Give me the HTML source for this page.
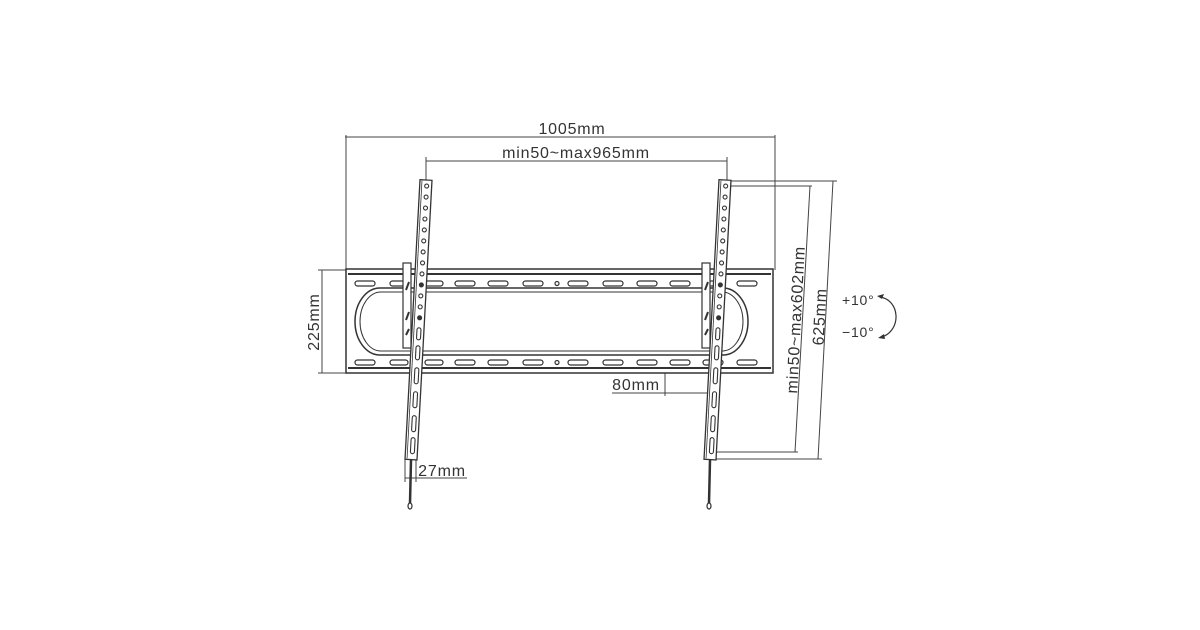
<!DOCTYPE html>
<html><head><meta charset="utf-8"><style>
html,body{margin:0;padding:0;background:#fff;}
svg{display:block;}
text{font-family:"Liberation Sans",sans-serif;fill:#333;letter-spacing:0.8px;}
</style></head><body>
<svg width="1200" height="630" viewBox="0 0 1200 630" xmlns="http://www.w3.org/2000/svg">
<g stroke="#444" stroke-width="1" fill="none">
<line x1="345" y1="137" x2="775" y2="137"/>
<line x1="346" y1="135" x2="346" y2="270"/>
<line x1="775" y1="135" x2="775" y2="270"/>
<line x1="426" y1="161" x2="727" y2="161"/>
<line x1="426" y1="157" x2="426" y2="182"/>
<line x1="727" y1="157" x2="727" y2="182"/>
<line x1="322" y1="270" x2="322" y2="373"/>
<line x1="318" y1="270" x2="346" y2="270"/>
<line x1="318" y1="373" x2="346" y2="373"/>
<line x1="731" y1="181" x2="837" y2="181"/>
<line x1="731" y1="186" x2="812" y2="186"/>
<line x1="810" y1="186" x2="795" y2="452"/>
<line x1="833" y1="181" x2="818" y2="459"/>
<line x1="716" y1="452" x2="798" y2="452"/>
<line x1="716" y1="459" x2="822" y2="459"/>
<line x1="612" y1="393" x2="712" y2="393"/>
<line x1="665" y1="373" x2="665" y2="396"/>
<line x1="405" y1="478" x2="467" y2="478"/>
<line x1="405" y1="460" x2="405" y2="482"/>
<line x1="416" y1="460" x2="416" y2="482"/>
</g>
<g stroke="#333" fill="none">
<rect x="346" y="269" width="427" height="104" stroke-width="1.5"/>
<line x1="348" y1="274" x2="771" y2="274" stroke-width="2"/>
<line x1="348" y1="368" x2="771" y2="368" stroke-width="2"/>
<path d="M380,288 H723 A25,33.5 0 0 1 723,355 H380 A25,33.5 0 0 1 380,288 Z" stroke-width="1.5"/>
<path d="M381,292 H722 A21,29.5 0 0 1 722,351 H381 A21,29.5 0 0 1 381,292 Z" stroke-width="1"/>
<g stroke-width="1.2">
<rect x="355" y="281" width="20" height="5" rx="2.5"/><rect x="390" y="281" width="18" height="5" rx="2.5"/><rect x="425" y="281" width="18" height="5" rx="2.5"/><rect x="455" y="281" width="20" height="5" rx="2.5"/><rect x="488" y="281" width="20" height="5" rx="2.5"/><rect x="523" y="281" width="20" height="5" rx="2.5"/><circle cx="557" cy="283.5" r="2"/><rect x="568" y="281" width="20" height="5" rx="2.5"/><rect x="603" y="281" width="20" height="5" rx="2.5"/><rect x="637" y="281" width="20" height="5" rx="2.5"/><rect x="670" y="281" width="20" height="5" rx="2.5"/><rect x="703" y="281" width="20" height="5" rx="2.5"/><rect x="737" y="281" width="20" height="5" rx="2.5"/>
<rect x="355" y="360" width="20" height="5" rx="2.5"/><rect x="390" y="360" width="18" height="5" rx="2.5"/><rect x="425" y="360" width="18" height="5" rx="2.5"/><rect x="455" y="360" width="20" height="5" rx="2.5"/><rect x="488" y="360" width="20" height="5" rx="2.5"/><rect x="523" y="360" width="20" height="5" rx="2.5"/><circle cx="557" cy="362.5" r="2"/><rect x="568" y="360" width="20" height="5" rx="2.5"/><rect x="603" y="360" width="20" height="5" rx="2.5"/><rect x="637" y="360" width="20" height="5" rx="2.5"/><rect x="670" y="360" width="20" height="5" rx="2.5"/><rect x="703" y="360" width="20" height="5" rx="2.5"/><rect x="737" y="360" width="20" height="5" rx="2.5"/>
</g>
</g>
<g stroke="#333" fill="#fff">
<rect x="403" y="263" width="8" height="85" stroke-width="1.2"/>
<path d="M406,290 l3,-8 M406,320 l3,-8 M406,335 l3,-6" stroke-width="2"/>
<g transform="rotate(3.07 426 180)">
<rect x="420" y="180" width="12" height="280" stroke-width="1.3"/>
<line x1="422" y1="181" x2="422" y2="459" stroke-width="0.8"/>
<g fill="none" stroke-width="1.1">
<circle cx="427" cy="186" r="2"/><circle cx="427" cy="197" r="2"/><circle cx="427" cy="208" r="2"/><circle cx="427" cy="219" r="2"/><circle cx="427" cy="230" r="2"/><circle cx="427" cy="241" r="2"/><circle cx="427" cy="252" r="2"/><circle cx="427" cy="263" r="2"/><circle cx="427" cy="274" r="2"/><circle cx="427" cy="285" r="2" fill="#333"/><circle cx="427" cy="296" r="2"/><circle cx="427" cy="307" r="2"/><circle cx="427" cy="318" r="2" fill="#333"/>
<rect x="425" y="328" width="4" height="12" rx="2"/><rect x="425" y="346" width="4" height="14" rx="2"/><rect x="425" y="368" width="4" height="16" rx="2"/><rect x="425" y="392" width="4" height="16" rx="2"/><rect x="425" y="416" width="4" height="16" rx="2"/><rect x="425" y="438" width="4" height="16" rx="2"/>
</g></g>
<line x1="411" y1="460" x2="410" y2="503" stroke-width="2.5"/>
<ellipse cx="410" cy="506" rx="2" ry="3" stroke-width="1.2"/>
</g>
<g stroke="#333" fill="#fff">
<rect x="702" y="263" width="8" height="85" stroke-width="1.2"/>
<path d="M705,290 l3,-8 M705,320 l3,-8 M705,335 l3,-6" stroke-width="2"/>
<g transform="rotate(3.07 725 180)">
<rect x="719" y="180" width="12" height="280" stroke-width="1.3"/>
<line x1="721" y1="181" x2="721" y2="459" stroke-width="0.8"/>
<g fill="none" stroke-width="1.1">
<circle cx="726" cy="186" r="2"/><circle cx="726" cy="197" r="2"/><circle cx="726" cy="208" r="2"/><circle cx="726" cy="219" r="2"/><circle cx="726" cy="230" r="2"/><circle cx="726" cy="241" r="2"/><circle cx="726" cy="252" r="2"/><circle cx="726" cy="263" r="2"/><circle cx="726" cy="274" r="2"/><circle cx="726" cy="285" r="2" fill="#333"/><circle cx="726" cy="296" r="2"/><circle cx="726" cy="307" r="2"/><circle cx="726" cy="318" r="2" fill="#333"/>
<rect x="724" y="328" width="4" height="12" rx="2"/><rect x="724" y="346" width="4" height="14" rx="2"/><rect x="724" y="368" width="4" height="16" rx="2"/><rect x="724" y="392" width="4" height="16" rx="2"/><rect x="724" y="416" width="4" height="16" rx="2"/><rect x="724" y="438" width="4" height="16" rx="2"/>
</g></g>
<line x1="710" y1="460" x2="709" y2="503" stroke-width="2.5"/>
<ellipse cx="709" cy="506" rx="2" ry="3" stroke-width="1.2"/>
</g>
<path d="M880,297 C900,300 902,330 882,337" stroke="#333" stroke-width="1.2" fill="none"/>
<path d="M877,296 l7,-2 l-2,5 z M878,338 l6,-4 l1,5 z" fill="#333"/>
<text x="572" y="134" font-size="16" text-anchor="middle">1005mm</text>
<text x="576" y="158" font-size="16" text-anchor="middle">min50~max965mm</text>
<text x="319" y="322" font-size="16" text-anchor="middle" transform="rotate(-90 319 322)">225mm</text>
<text x="636" y="390" font-size="16" text-anchor="middle">80mm</text>
<text x="442" y="476" font-size="16" text-anchor="middle">27mm</text>
<text x="801" y="320" font-size="16" text-anchor="middle" transform="rotate(-87 801 320)">min50~max602mm</text>
<text x="825" y="317" font-size="16" text-anchor="middle" transform="rotate(-87 825 317)">625mm</text>
<text x="842" y="305" font-size="14">+10°</text>
<text x="842" y="337" font-size="14">−10°</text>
</svg>
</body></html>
